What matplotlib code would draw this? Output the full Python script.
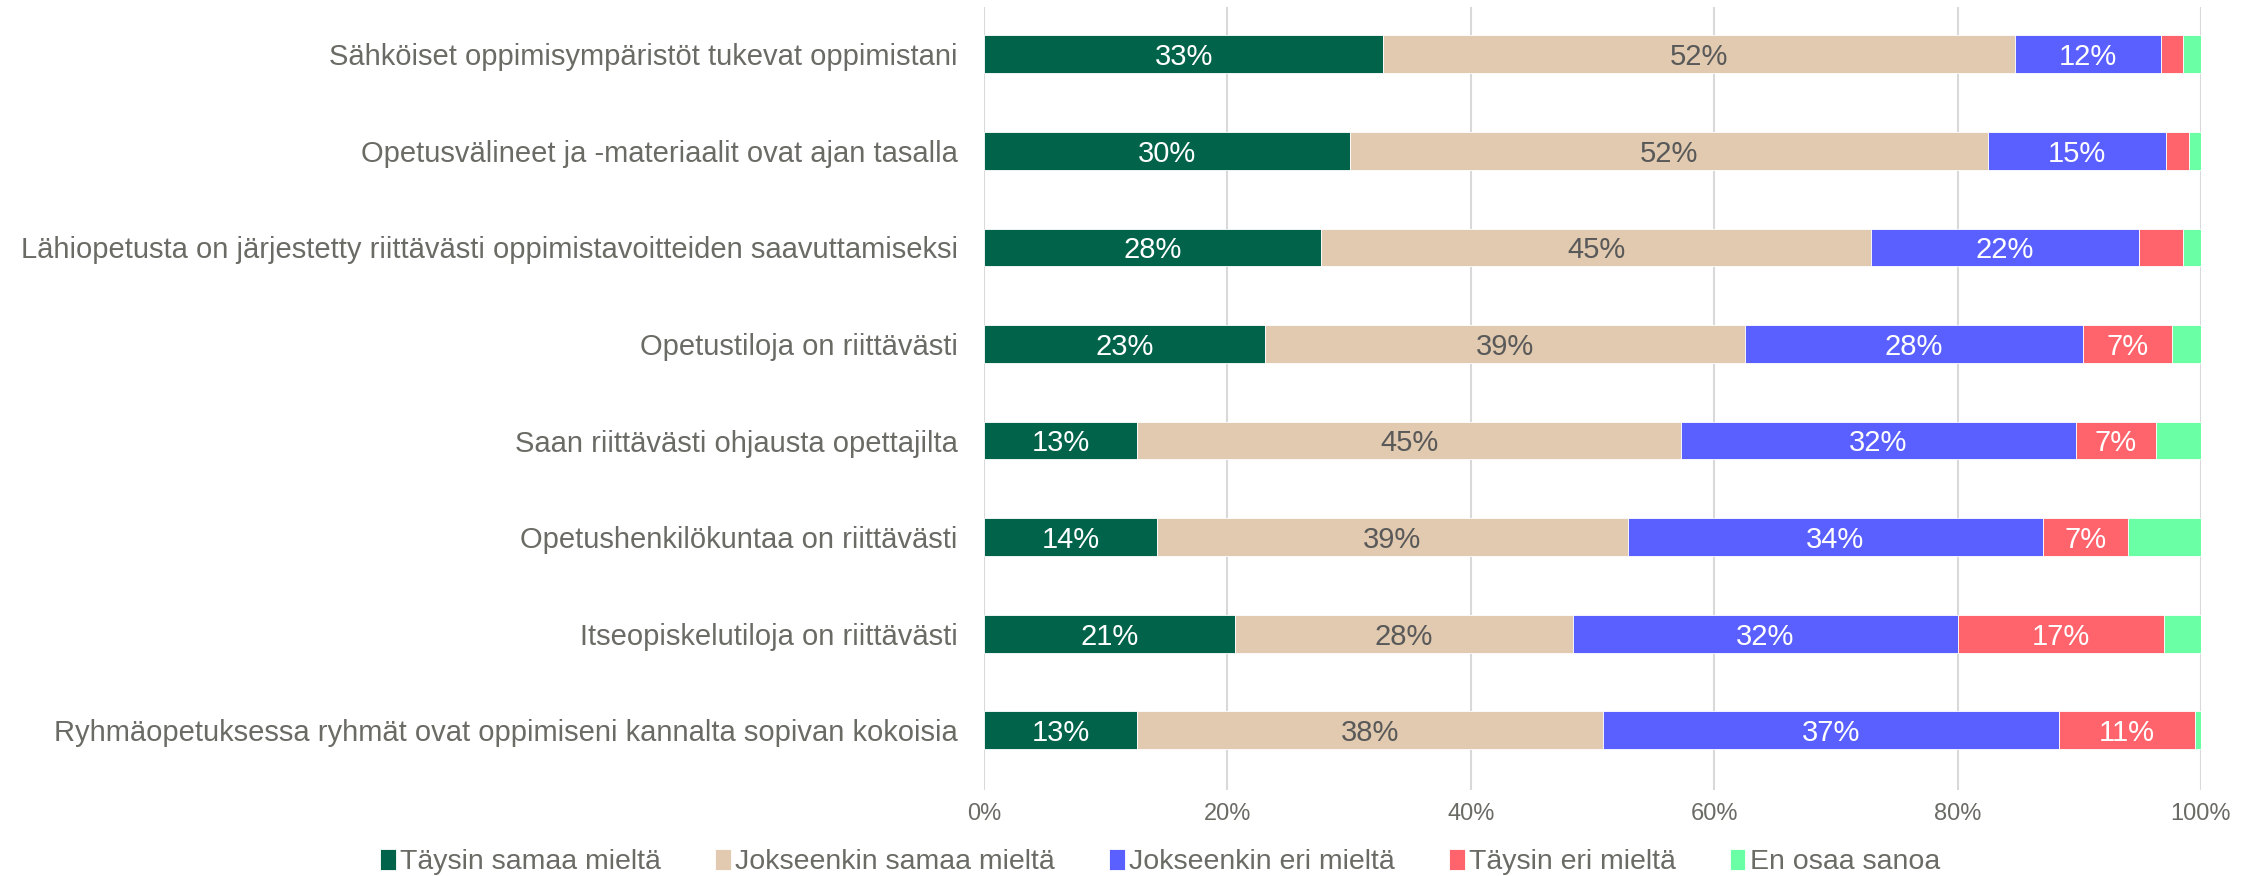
import matplotlib.pyplot as plt

plt.rcParams['font.family'] = ['Liberation Sans', 'DejaVu Sans']

# Survey statements (top to bottom)
statements = [
    "Sähköiset oppimisympäristöt tukevat oppimistani",
    "Opetusvälineet ja -materiaalit ovat ajan tasalla",
    "Lähiopetusta on järjestetty riittävästi oppimistavoitteiden saavuttamiseksi",
    "Opetustiloja on riittävästi",
    "Saan riittävästi ohjausta opettajilta",
    "Opetushenkilökuntaa on riittävästi",
    "Itseopiskelutiloja on riittävästi",
    "Ryhmäopetuksessa ryhmät ovat oppimiseni kannalta sopivan kokoisia",
]

answers = ["Täysin samaa mieltä", "Jokseenkin samaa mieltä", "Jokseenkin eri mieltä",
           "Täysin eri mieltä", "En osaa sanoa"]

# Shares in percent, one list per answer option
taysin_samaa = [32.8, 30.1, 27.7, 23.1, 12.6, 14.2, 20.6, 12.6]
jokseenkin_samaa = [51.9, 52.4, 45.2, 39.4, 44.7, 38.7, 27.8, 38.3]
jokseenkin_eri = [12.0, 14.6, 22.0, 27.8, 32.4, 34.1, 31.6, 37.4]
taysin_eri = [1.8, 1.9, 3.6, 7.3, 6.6, 7.0, 17.0, 11.2]
en_osaa = [1.5, 1.0, 1.5, 2.4, 3.7, 6.0, 3.0, 0.5]

series = [taysin_samaa, jokseenkin_samaa, jokseenkin_eri, taysin_eri, en_osaa]
colors = ['#00634A', '#E1CAAF', '#5A60FF', '#FF636B', '#6AFFA5']
label_colors = ['white', '#595959', 'white', 'white', 'white']

fig = plt.figure(figsize=(22.59, 8.76), dpi=100)
ax = fig.add_axes([0.4356, 0.098, 0.5387, 0.894])

y = list(range(len(statements)))
left = [0.0] * len(statements)
for vals, col, lcol, name in zip(series, colors, label_colors, answers):
    bars = ax.barh(y, vals, left=left, height=0.39, color=col, edgecolor='white',
                   linewidth=0.6, label=name, zorder=3)
    for b, v in zip(bars, vals):
        # small segments are left without a label
        if v >= 6.5:
            ax.text(b.get_x() + b.get_width() / 2, b.get_y() + b.get_height() / 2 + 0.03,
                    f"{v:.0f}%", ha='center', va='center', color=lcol,
                    fontsize=21, zorder=4)
    left = [l + v for l, v in zip(left, vals)]

ax.set_xlim(0, 100)
ax.set_ylim(7.62, -0.49)
ax.set_xticks(range(0, 101, 20))
ax.set_xticklabels([f"{t}%" for t in range(0, 101, 20)])
ax.set_yticks(y)
ax.set_yticklabels(statements)
ax.tick_params(axis='y', length=0, pad=19, labelsize=21, labelcolor='#6B6B66')
ax.tick_params(axis='x', length=0, pad=9, labelsize=17, labelcolor='#6B6B66')
ax.grid(axis='x', color='#D9D9D9', linewidth=1.5, zorder=0)
for s in ax.spines.values():
    s.set_visible(False)

fig.legend(loc='center', bbox_to_anchor=(0.5136, 0.016), bbox_transform=fig.transFigure,
           ncol=5, frameon=False, fontsize=20.5, handlelength=0.55, handleheight=0.8,
           handletextpad=0.15, columnspacing=1.9, labelcolor='#6B6B66')

fig.savefig('out.png', dpi=100)
